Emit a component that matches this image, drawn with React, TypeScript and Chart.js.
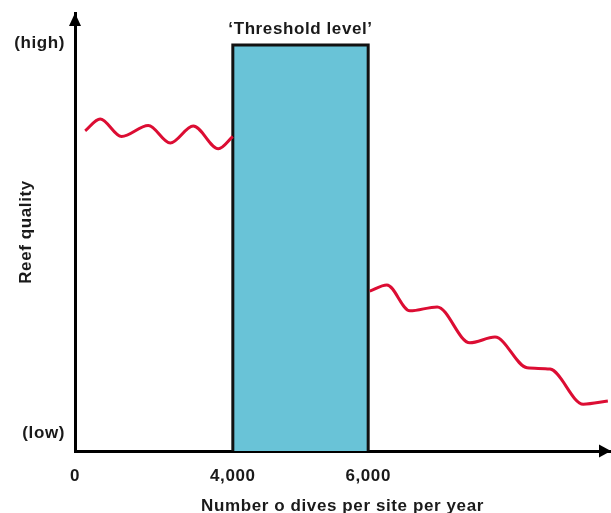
import { useEffect, useRef } from "react";
import { Chart, registerables } from "chart.js";

Chart.register(...registerables);

// Schematic x positions (arbitrary units 0..100 along the axis) and their labels
const xTickValues = [0, 29.5, 54.8];
const xTickLabels = ["0", "4,000", "6,000"];
const xTitle = "Number o dives per site per year";

// Schematic y positions (0..100) and their labels
const yTickValues = [4, 93];
const yTickLabels = ["(low)", "(high)"];
const yTitle = "Reef quality";

// Threshold band
const thresholdEdges = [29.5, 54.8];
const thresholdTop = 92.7;
const thresholdLabel = "‘Threshold level’";

// Reef quality curve before the threshold
const leftWaveX = [1.9, 4.7, 8.7, 13.7, 17.8, 22.1, 26.8, 29.5];
const leftWaveY = [73.1, 75.8, 71.8, 74.3, 70.3, 74.2, 69.0, 71.8];

// Reef quality curve after the threshold
const rightWaveX = [55.1, 58.3, 62.6, 67.7, 73.8, 78.5, 84.5, 88.8, 95.0, 99.6];
const rightWaveY = [36.5, 37.9, 32.0, 32.9, 24.7, 26.0, 19.0, 18.7, 10.7, 11.4];

const FONT_FAMILY = "'Liberation Sans', Arial, Helvetica, sans-serif";
const TEXT_COLOR = "#1a1a1a";
const WAVE_COLOR = "#dc0d33";
const BAND_COLOR = "#69c3d7";

const toPoints = (xs: number[], ys: number[]) => xs.map((x, i) => ({ x, y: ys[i] }));

const decorPlugin = {
  id: "decor",
  beforeDraw(chart: any) {
    chart.ctx.letterSpacing = "0.6px";
  },
  afterDraw(chart: any) {
    const { ctx, chartArea, scales } = chart;
    ctx.save();
    ctx.fillStyle = "#000";
    // y axis arrow
    const ax = chartArea.left;
    ctx.beginPath();
    ctx.moveTo(ax, chartArea.top);
    ctx.lineTo(ax - 6, chartArea.top + 13);
    ctx.lineTo(ax + 6, chartArea.top + 13);
    ctx.closePath();
    ctx.fill();
    // x axis arrow
    const ay = chartArea.bottom;
    ctx.beginPath();
    ctx.moveTo(chartArea.right + 1, ay);
    ctx.lineTo(chartArea.right - 11, ay - 6.5);
    ctx.lineTo(chartArea.right - 11, ay + 6.5);
    ctx.closePath();
    ctx.fill();
    // threshold label
    const cx = (scales.x.getPixelForValue(thresholdEdges[0]) + scales.x.getPixelForValue(thresholdEdges[1])) / 2;
    const ty = scales.y.getPixelForValue(thresholdTop);
    ctx.fillStyle = TEXT_COLOR;
    ctx.font = `bold 17px ${FONT_FAMILY}`;
    ctx.letterSpacing = "0.6px";
    ctx.textAlign = "center";
    ctx.textBaseline = "middle";
    ctx.fillText(thresholdLabel, cx, ty - 16);
    ctx.restore();
  },
};

export default function App() {
  const canvasRef = useRef<HTMLCanvasElement | null>(null);

  useEffect(() => {
    if (!canvasRef.current) return;
    const font = { family: FONT_FAMILY, size: 17, weight: "bold" as const };
    const chart = new Chart(canvasRef.current, {
      type: "line",
      data: {
        datasets: [
          {
            data: toPoints(leftWaveX, leftWaveY),
            borderColor: WAVE_COLOR,
            borderWidth: 3,
            pointRadius: 0,
            cubicInterpolationMode: "monotone",
            fill: false,
            clip: false as any,
          },
          {
            data: toPoints(rightWaveX, rightWaveY),
            borderColor: WAVE_COLOR,
            borderWidth: 3,
            pointRadius: 0,
            cubicInterpolationMode: "monotone",
            fill: false,
            clip: false as any,
          },
          {
            data: [
              { x: thresholdEdges[0], y: 0 },
              { x: thresholdEdges[0], y: thresholdTop },
              { x: thresholdEdges[1], y: thresholdTop },
              { x: thresholdEdges[1], y: 0 },
            ],
            borderColor: "#111",
            borderWidth: 3,
            backgroundColor: BAND_COLOR,
            pointRadius: 0,
            tension: 0,
            fill: "origin",
          },
        ],
      },
      options: {
        animation: false,
        responsive: true,
        maintainAspectRatio: false,
        layout: { padding: { top: 13, right: 1, left: 0, bottom: 0 } },
        plugins: {
          legend: { display: false },
          tooltip: { enabled: false },
        },
        scales: {
          x: {
            type: "linear",
            min: 0,
            max: 100,
            grid: { display: false, drawTicks: false },
            border: { display: true, color: "#000", width: 3 },
            afterBuildTicks: (scale: any) => {
              scale.ticks = xTickValues.map((v) => ({ value: v }));
            },
            afterFit: (scale: any) => {
              scale.height = 62;
              scale.paddingLeft = 0;
              scale.paddingRight = 0;
            },
            ticks: {
              autoSkip: false,
              maxRotation: 0,
              padding: 15,
              color: TEXT_COLOR,
              font,
              callback: (_v: any, i: number) => xTickLabels[i],
            },
            title: {
              display: true,
              text: xTitle,
              color: TEXT_COLOR,
              font: { ...font, lineHeight: 0.75 },
              padding: { top: 0, bottom: 0 },
            },
          },
          y: {
            type: "linear",
            min: 0,
            max: 100,
            grid: { display: false, drawTicks: false },
            border: { display: true, color: "#000", width: 3 },
            afterBuildTicks: (scale: any) => {
              scale.ticks = yTickValues.map((v) => ({ value: v }));
            },
            afterFit: (scale: any) => {
              scale.width = 75;
              scale.paddingTop = 0;
              scale.paddingBottom = 0;
            },
            ticks: {
              autoSkip: false,
              padding: 10,
              color: TEXT_COLOR,
              font,
              callback: (_v: any, i: number) => yTickLabels[i],
            },
            title: {
              display: true,
              text: yTitle,
              color: TEXT_COLOR,
              font,
              padding: { top: 16, bottom: 0 },
            },
          },
        },
      },
      plugins: [decorPlugin],
    });
    return () => chart.destroy();
  }, []);

  return (
    <div style={{ position: "absolute", left: 0, top: 0, width: 611, height: 513, background: "#fff" }}>
      <canvas ref={canvasRef} />
    </div>
  );
}
